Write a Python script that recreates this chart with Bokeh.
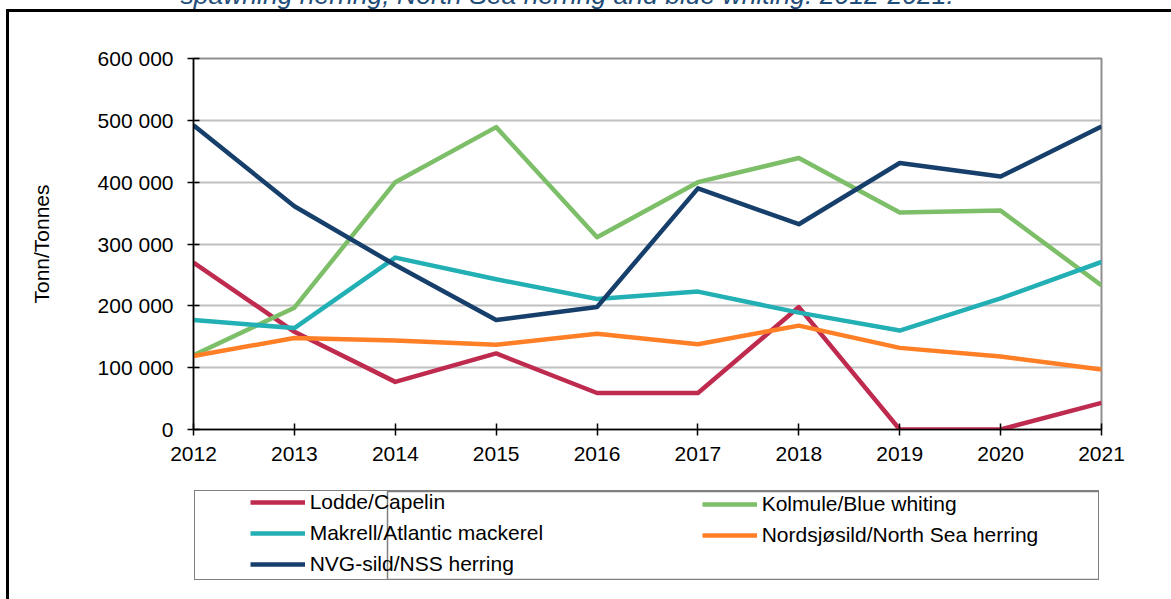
from bokeh.plotting import figure
from bokeh.layouts import column
from bokeh.models import (FixedTicker, CustomJSTickFormatter, Legend, LegendItem,
                          Range1d, InlineStyleSheet)
from bokeh.embed import file_html
from bokeh.resources import INLINE

years = [2012, 2013, 2014, 2015, 2016, 2017, 2018, 2019, 2020, 2021]
lodde = [270000, 158000, 77000, 123000, 59000, 59000, 198000, 0, 0, 43000]
kolmule = [120000, 197000, 400000, 489000, 311000, 400000, 439000, 351000, 354000, 233000]
makrell = [177000, 164000, 278000, 243000, 211000, 223000, 189000, 160000, 212000, 271000]
nordsjo = [119000, 148000, 144000, 137000, 155000, 138000, 168000, 132000, 118000, 97000]
nvg = [492000, 361000, 266000, 177000, 198000, 390000, 332000, 431000, 409000, 490000]

names = ["Lodde/Capelin", "Kolmule/Blue whiting", "Makrell/Atlantic mackerel",
         "Nordsjøsild/North Sea herring", "NVG-sild/NSS herring"]
colors = ["#BF2B4F", "#7DBE68", "#23B0B5", "#FF7F27", "#173F6B"]
series = [lodde, kolmule, makrell, nordsjo, nvg]
y_ticks = [0, 100000, 200000, 300000, 400000, 500000, 600000]
title_text = "spawning herring, North Sea herring and blue whiting. 2012-2021."
y_label = "Tonn/Tonnes"

FONT = "Liberation Sans"
SHIFT = 78  # canvas starts above the window top

css_main = """
:host { position: relative; }
:host::before {
  content: ""; position: absolute; left: 6px; top: %dpx; width: 1300px; height: 800px;
  border-top: 3px solid #000; border-left: 3px solid #000; box-sizing: border-box;
  pointer-events: none; z-index: 5;
}
""" % (9 + SHIFT)

css_leg = """
:host { position: relative; }
:host::before {
  content: ""; position: absolute; left: -188px; top: 0px; width: 3px; height: 200px;
  background: #000; pointer-events: none; z-index: 5;
}
:host::after {
  content: ""; position: absolute; left: 0px; top: 0px; width: 905px; height: 90px;
  border: 1.5px solid #7f7f7f; box-sizing: border-box; pointer-events: none; z-index: 5;
}
"""

p = figure(frame_width=908, frame_height=371, output_backend="svg", toolbar_location=None,
           x_range=Range1d(2012, 2021), y_range=Range1d(0, 600000),
           min_border_left=193, min_border_right=70, min_border_top=58 + SHIFT,
           min_border_bottom=62, margin=(-SHIFT, 0, 0, 0))
p.stylesheets = [InlineStyleSheet(css=css_main)]
p.background_fill_color = "white"
p.border_fill_color = "white"
p.outline_line_color = "#8f8f8f"
p.outline_line_width = 2

p.title.text = title_text
p.title.align = "left"
p.title.offset = -13
p.title.standoff = 98
p.title.text_font = FONT
p.title.text_font_size = "26.5px"
p.title.text_font_style = "italic"
p.title.text_color = "#1F4E79"

p.xgrid.visible = False
p.ygrid.grid_line_color = "#c0c0c0"
p.ygrid.grid_line_width = 2
p.ygrid.ticker = FixedTicker(ticks=y_ticks)

p.xaxis.ticker = FixedTicker(ticks=years)
p.yaxis.ticker = FixedTicker(ticks=y_ticks)
p.yaxis.formatter = CustomJSTickFormatter(
    code="return tick.toFixed(0).replace(/\\B(?=(\\d{3})+(?!\\d))/g, ' ');")

for ax in (p.xaxis, p.yaxis):
    ax.axis_line_color = "#000000"
    ax.axis_line_width = 1.5
    ax.major_tick_line_color = "#000000"
    ax.major_tick_line_width = 1.5
    ax.major_tick_in = 6
    ax.major_tick_out = 6
    ax.minor_tick_line_color = None
    ax.major_label_text_font = FONT
    ax.major_label_text_font_size = "21px"
    ax.major_label_text_color = "#000000"
p.xaxis.major_label_standoff = 11
p.yaxis.major_label_standoff = 14
p.yaxis.axis_label = y_label
p.yaxis.axis_label_text_font = FONT
p.yaxis.axis_label_text_font_size = "21px"
p.yaxis.axis_label_text_font_style = "normal"
p.yaxis.axis_label_text_color = "#000000"
p.yaxis.axis_label_standoff = 42

for s, c in zip(series, colors):
    p.line(years, s, line_color=c, line_width=4.5, line_join="round")

# legend panel: a second figure whose frame is the legend box
p2 = figure(frame_width=903, frame_height=88, output_backend="svg", toolbar_location=None,
            x_range=Range1d(0, 1), y_range=Range1d(0, 1),
            x_axis_type=None, y_axis_type=None,
            min_border_left=1, min_border_right=1, min_border_top=1, min_border_bottom=1,
            margin=(-1, 0, 0, 194))
p2.stylesheets = [InlineStyleSheet(css=css_leg)]
p2.background_fill_color = "white"
p2.border_fill_color = "white"
p2.outline_line_color = "#7f7f7f"
p2.outline_line_width = 1.5
p2.xgrid.visible = False
p2.ygrid.visible = False

leg_renderers = []
for s, c in zip(series, colors):
    leg_renderers.append(p2.line(years, s, line_color=c, line_width=4.5))

def make_legend(idx, loc):
    lg = Legend(items=[LegendItem(label=names[i], renderers=[leg_renderers[i]]) for i in idx],
                location=loc, orientation="vertical")
    lg.label_text_font = FONT
    lg.label_text_font_size = "21px"
    lg.label_text_color = "#000000"
    lg.label_height = 20
    lg.glyph_height = 20
    lg.glyph_width = 55
    lg.label_standoff = 5
    lg.spacing = 7
    lg.padding = 0
    lg.margin = 0
    lg.border_line_alpha = 0
    lg.background_fill_alpha = 0
    return lg

p2.add_layout(make_legend([0, 2, 4], (55, 3)))
p2.add_layout(make_legend([1, 3], (507, 32)))

layout = column(p, p2, spacing=0)
open("out.html", "w").write(file_html(layout, INLINE))
